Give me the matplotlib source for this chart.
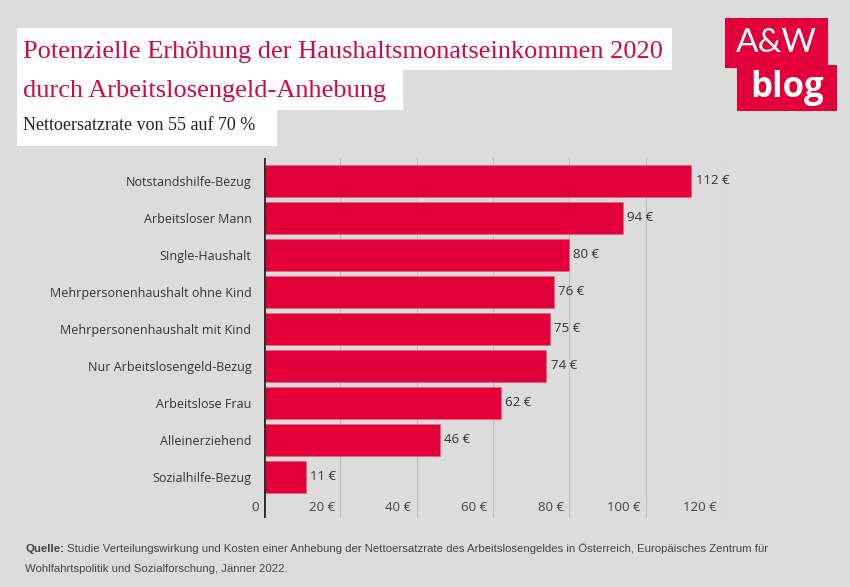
import matplotlib.pyplot as plt
from matplotlib.patches import Rectangle

categories = [
    "Notstandshilfe-Bezug",
    "Arbeitsloser Mann",
    "SIngle-Haushalt",
    "Mehrpersonenhaushalt ohne Kind",
    "Mehrpersonenhaushalt mit Kind",
    "Nur Arbeitslosengeld-Bezug",
    "Arbeitslose Frau",
    "Alleinerziehend",
    "Sozialhilfe-Bezug",
]
values = [112, 94, 80, 76, 75, 74, 62, 46, 11]
xticks = [0, 20, 40, 60, 80, 100, 120]
xtick_labels = ["0", "20 €", "40 €", "60 €", "80 €", "100 €", "120 €"]

BG = "#dcdcdc"
RED = "#e3003a"
TEXT = "#333333"
SANS = ["Open Sans", "DejaVu Sans"]

W, H = 850, 587
fig = plt.figure(figsize=(8.5, 5.87), dpi=100, facecolor=BG)


def px_box(x0, y0, x1, y1):
    # pixel coords (top-left origin) -> figure fraction
    return [x0 / W, 1 - y1 / H, (x1 - x0) / W, (y1 - y0) / H]


ax = fig.add_axes(px_box(264, 158, 722, 518))
ax.set_facecolor(BG)

pos = list(range(len(categories)))
ax.barh(pos, values, height=0.86, color=RED, edgecolor="#f0607f", linewidth=0.4, zorder=3)
ax.set_xlim(0, 120)
ax.set_ylim(len(categories) - 1 + 1.11, -0.62)

for v in xticks[1:]:
    ax.axvline(v, color="#bdbdbd", lw=0.8, zorder=1)
ax.axvline(0, color="#2b2b2b", lw=2, zorder=4)

for spine in ax.spines.values():
    spine.set_visible(False)
ax.set_xticks([])
ax.set_yticks(pos)
ax.set_yticklabels(categories, fontsize=9, color=TEXT, family=SANS)
ax.tick_params(axis="y", length=0, pad=9)

for p, v in zip(pos, values):
    ax.annotate(f"{v} €", (v, p), xytext=(3, 0), textcoords="offset points",
                ha="left", va="center", fontsize=9.5, color=TEXT, family=SANS)

for v, lab in zip(xticks, xtick_labels):
    ax.annotate(lab, (v, 0.03), xycoords=ax.get_xaxis_transform(), xytext=(-4, 0),
                textcoords="offset points", ha="right", va="center",
                fontsize=9.5, color="#444444", family=SANS)

# title boxes
for x0, y0, x1, y1 in [(17, 28, 672, 70), (17, 68, 403, 110), (17, 108, 277, 146)]:
    fig.patches.append(Rectangle((x0 / W, 1 - y1 / H), (x1 - x0) / W, (y1 - y0) / H,
                                 transform=fig.transFigure, facecolor="white",
                                 edgecolor="none"))

SERIF = ["Liberation Serif", "DejaVu Serif"]
fig.text(23 / W, 1 - 52 / H, "Potenzielle Erhöhung der Haushaltsmonatseinkommen 2020",
         fontsize=19, color="#d6063f", family=SERIF, va="center")
fig.text(23 / W, 1 - 91 / H, "durch Arbeitslosengeld-Anhebung",
         fontsize=19, color="#d6063f", family=SERIF, va="center")
fig.text(23 / W, 1 - 126 / H, "Nettoersatzrate von 55 auf 70 %",
         fontsize=13, color="#222222", family=SERIF, va="center")

# logo
for x0, y0, x1, y1 in [(725, 18, 828, 68), (737, 65, 837, 111)]:
    fig.patches.append(Rectangle((x0 / W, 1 - y1 / H), (x1 - x0) / W, (y1 - y0) / H,
                                 transform=fig.transFigure, facecolor=RED,
                                 edgecolor="none"))
fig.text(776 / W, 1 - 43 / H, "A&W", fontsize=24, color="white",
         family=["Lato", "DejaVu Sans"], ha="center", va="center")
fig.text(787 / W, 1 - 88 / H, "blog", fontsize=25, color="white", family=SANS,
         weight="bold", ha="center", va="center")

# footer
FOOT = ["Liberation Sans Narrow", "Liberation Sans", "DejaVu Sans"]
quelle = fig.text(25 / W, 1 - 549 / H, "Quelle:", fontsize=8.2, color="#444444",
                  family=FOOT, weight="bold", va="center")
ax.annotate("Studie Verteilungswirkung und Kosten einer Anhebung der Nettoersatzrate des "
            "Arbeitslosengeldes in Österreich, Europäisches Zentrum für",
            xy=(1, 0.5), xycoords=quelle, xytext=(2, 0), textcoords="offset points",
            ha="left", va="center", fontsize=8.2, color="#444444", family=FOOT,
            annotation_clip=False)
fig.text(25 / W, 1 - 569 / H, "Wohlfahrtspolitik und Sozialforschung, Jänner 2022.",
         fontsize=8.2, color="#444444", family=FOOT, va="center")

fig.savefig("out.png", dpi=100, facecolor=BG)
